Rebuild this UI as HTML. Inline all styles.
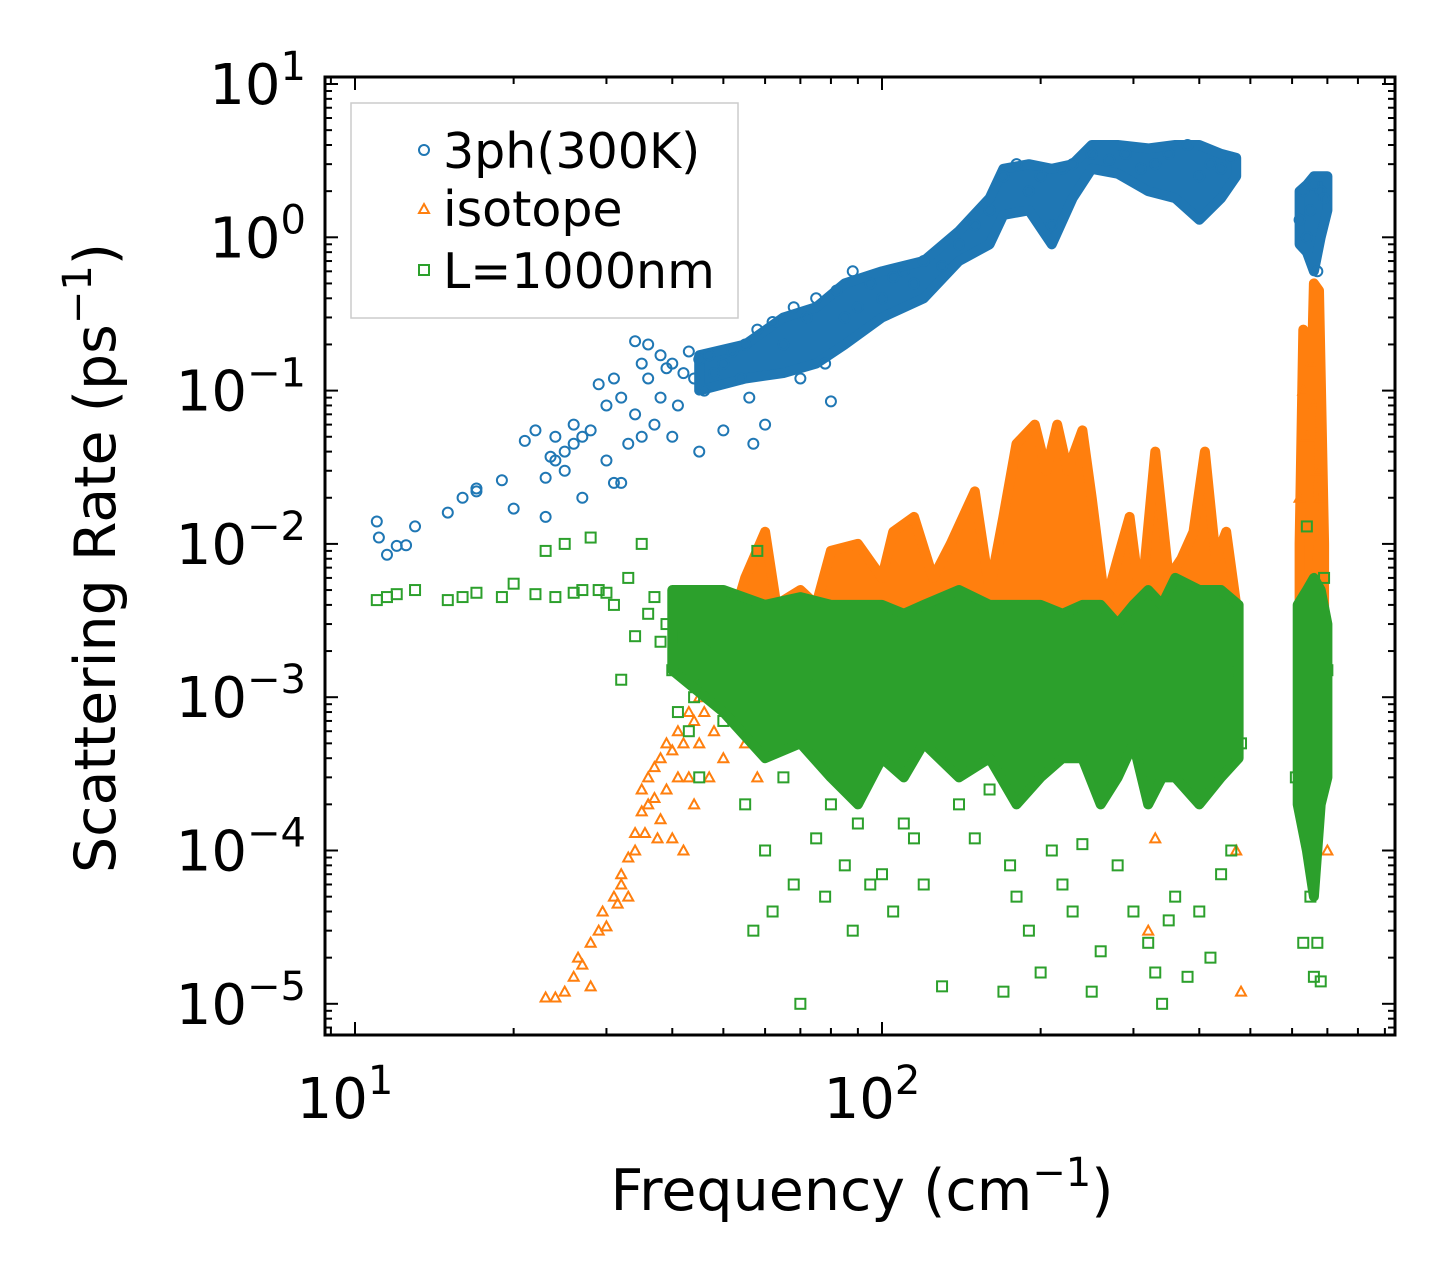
<!DOCTYPE html>
<html>
<head>
<meta charset="utf-8">
<style>
html,body{margin:0;padding:0;background:#fff;}
svg{display:block;font-family:"DejaVu Sans","Liberation Sans",sans-serif;}
</style>
</head>
<body>
<svg id="chart" width="1455" height="1285" viewBox="0 0 1455 1285" xmlns="http://www.w3.org/2000/svg">
<rect x="0" y="0" width="1455" height="1285" fill="#fff"/>
<g id="marks"></g>
<g id="axes"></g>
<g id="legend">
  <rect x="351" y="103" width="387" height="215" fill="#fff" fill-opacity="0.8" stroke="#ccc" stroke-width="1.5"/>
  <g>
    <circle cx="424" cy="150" r="5" fill="none" stroke="#1f77b4" stroke-width="2"/>
    <text x="443" y="168" font-size="49" fill="#000">3ph(300K)</text>
  </g>
  <g>
    <polygon points="424,204 429,213 419,213" fill="none" stroke="#ff7f0e" stroke-width="2"/>
    <text x="443" y="226" font-size="49" fill="#000">isotope</text>
  </g>
  <g>
    <rect x="419" y="265" width="10" height="10" fill="none" stroke="#2ca02c" stroke-width="2"/>
    <text x="443" y="288" font-size="49" fill="#000">L=1000nm</text>
  </g>
</g>
<text x="862" y="1210" font-size="57" text-anchor="middle">Frequency (cm<tspan font-size="40" dy="-24">−1</tspan><tspan dy="24">)</tspan></text>
<text transform="translate(115,558) rotate(-90)" font-size="57" text-anchor="middle">Scattering Rate (ps<tspan font-size="40" dy="-24">−1</tspan><tspan dy="24">)</tspan></text>
</svg>
<script>
// ---- data ----
const blueFreq = [11,11.1,11.5,12,12.5,13,15,16,17,17,19,20,21,22,23,23,23.5,24,24,25,25,26,26,27,27,28,29,30,30,31,31,32,32,33,34,34,35,35,36,36,37,38,38,39,40,40,41,42,43,44,45,45,46,47,48,50,50,52,54,55,56,57,58,60,62,65,68,70,72,75,78,80,82,85,88,90,95,100,105,110,115,120,130,140,150,160,170,180,190,200,210,220,230,250,270,290,310,330,350,380,400,420,440,460,620,630,640,650,660,670,680,690];
const blueRate = [0.014,0.011,0.0085,0.0097,0.0098,0.013,0.016,0.02,0.022,0.023,0.026,0.017,0.047,0.055,0.027,0.015,0.037,0.035,0.05,0.04,0.03,0.045,0.06,0.02,0.05,0.055,0.11,0.035,0.08,0.025,0.12,0.09,0.025,0.045,0.07,0.21,0.15,0.05,0.12,0.2,0.06,0.17,0.09,0.14,0.05,0.15,0.08,0.13,0.18,0.12,0.04,0.16,0.1,0.17,0.13,0.15,0.055,0.18,0.12,0.2,0.09,0.045,0.25,0.06,0.28,0.2,0.35,0.12,0.3,0.4,0.15,0.085,0.45,0.3,0.6,0.35,0.5,0.4,0.55,0.6,0.5,0.7,0.65,0.9,1.2,1.5,2.5,3,2,2.5,1.2,2.8,3,3.5,3.2,3.5,2.8,3,3.5,4,2.5,3,2.8,3.3,1.3,2,1,1.5,2.2,0.6,2,1.8];
const blueBandFreq = [45,55,65,75,85,100,120,140,160,170,190,210,230,250,280,320,360,400,440,470];
const blueBandLo = [0.1,0.12,0.13,0.15,0.2,0.3,0.4,0.7,0.9,1.4,1.5,0.9,1.8,2.8,2.6,2,1.8,1.3,1.8,2.5];
const blueBandHi = [0.17,0.2,0.3,0.35,0.5,0.6,0.7,1.1,1.8,2.8,3,2.8,3,4,4,3.8,4,4,3.5,3.3];
const blueBand2Freq = [620,640,660,680,700];
const blueBand2Lo = [0.9,0.8,0.6,1,1.5];
const blueBand2Hi = [2,2.2,2.5,2.5,2.5];

const orangeFreq = [23,24,25,26,26.5,27,28,28,29,29.5,30,31,31.5,32,32,33,33,34,34,35,35,35.5,36,36,37,37,37.5,38,38,39,39,40,40,41,41,42,42,43,43,44,44,45,45,46,47,48,48,50,50,52,53,55,55,57,58,60,620,630,640,650,660,670,680,700,470,480,320,330];
const orangeRate = [1.1e-5,1.1e-5,1.2e-5,1.5e-5,2e-5,1.8e-5,1.3e-5,2.5e-5,3e-5,4e-5,3.2e-5,5e-5,4.5e-5,6e-5,7e-5,5e-5,9e-5,1e-4,1.3e-4,1.8e-4,2.5e-4,1.3e-4,3e-4,2e-4,2.2e-4,3.5e-4,1.2e-4,4e-4,1.6e-4,2.5e-4,5e-4,4.5e-4,1.2e-4,3e-4,6e-4,5e-4,1e-4,8e-4,3e-4,7e-4,2e-4,1e-3,5e-4,8e-4,3e-4,1.2e-3,6e-4,1e-3,4e-4,1.5e-3,7e-4,1.3e-3,5e-4,2e-3,3e-4,8e-4,0.02,0.1,0.05,0.15,0.08,0.03,0.02,1e-4,1e-4,1.2e-5,3e-5,1.2e-4];
const orangeBandFreq = [50,55,60,63,70,75,80,90,100,105,115,125,135,150,160,170,180,195,205,215,225,240,250,265,280,295,310,330,350,370,390,410,430,450,470];
const orangeBandLo = [0.0008,0.001,0.0015,0.002,0.002,0.002,0.002,0.003,0.003,0.003,0.003,0.003,0.003,0.003,0.003,0.002,0.003,0.003,0.003,0.003,0.003,0.003,0.002,0.002,0.002,0.002,0.002,0.002,0.002,0.002,0.002,0.002,0.002,0.002,0.002];
const orangeBandHi = [0.002,0.006,0.012,0.004,0.005,0.004,0.009,0.01,0.006,0.012,0.015,0.006,0.01,0.022,0.005,0.015,0.045,0.06,0.03,0.06,0.03,0.055,0.02,0.004,0.008,0.015,0.004,0.04,0.006,0.008,0.012,0.04,0.008,0.012,0.004];
const orangeBand2Freq = [620,630,645,660,675,690];
const orangeBand2Lo = [0.001,0.005,0.003,0.005,0.01,0.001];
const orangeBand2Hi = [0.01,0.25,0.02,0.5,0.45,0.01];

const greenFreq = [11,11.5,12,13,15,16,17,19,20,22,23,24,25,26,27,28,29,30,31,32,33,34,35,36,37,38,39,40,41,42,43,44,45,46,48,50,52,55,57,58,60,62,65,68,70,72,75,78,80,85,88,90,95,100,105,110,115,120,130,140,150,160,170,175,180,190,200,210,220,230,240,250,260,280,300,320,330,340,350,360,380,400,420,440,460,470,480,610,620,630,640,650,660,670,680,690,700];
const greenRate = [0.0043,0.0045,0.0047,0.005,0.0043,0.0045,0.0048,0.0045,0.0055,0.0047,0.009,0.0045,0.01,0.0048,0.005,0.011,0.005,0.0048,0.004,0.0013,0.006,0.0025,0.01,0.0035,0.0045,0.0023,0.003,0.0015,0.0008,0.0025,0.0006,0.001,3e-4,0.0012,0.002,0.0007,0.0025,2e-4,3e-5,0.009,1e-4,4e-5,3e-4,6e-5,1e-5,0.0012,1.2e-4,5e-5,2e-4,8e-5,3e-5,1.5e-4,6e-5,7e-5,4e-5,1.5e-4,1.2e-4,6e-5,1.3e-5,2e-4,1.2e-4,2.5e-4,1.2e-5,8e-5,5e-5,3e-5,1.6e-5,1e-4,6e-5,4e-5,1.1e-4,1.2e-5,2.2e-5,8e-5,4e-5,2.5e-5,1.6e-5,1e-5,3.5e-5,5e-5,1.5e-5,4e-5,2e-5,7e-5,1e-4,0.0015,5e-4,0.0003,0.001,2.5e-5,0.013,5e-5,1.5e-5,2.5e-5,1.4e-5,0.006,0.0015];
const greenBandFreq = [40,50,60,70,80,90,100,110,120,140,160,180,200,220,240,260,280,300,320,340,360,400,440,475];
const greenBandLo = [0.0015,0.0008,0.0004,0.0005,0.0003,0.0002,0.0004,0.0003,0.0005,0.0003,0.0004,0.0002,0.0003,0.0004,0.0004,0.0002,0.0003,0.0005,0.0002,0.0003,0.0003,0.0002,0.0003,0.0004];
const greenBandHi = [0.005,0.005,0.004,0.0045,0.004,0.004,0.004,0.0035,0.004,0.005,0.004,0.004,0.004,0.0035,0.004,0.004,0.003,0.004,0.005,0.004,0.006,0.005,0.005,0.004];
const greenBand2Freq = [615,640,660,680,700];
const greenBand2Lo = [0.0002,0.0001,0.00005,0.0002,0.0003];
const greenBand2Hi = [0.004,0.005,0.006,0.005,0.003];

const xTickValues = [10,100];
const xTickExps = ["1","2"];
const yTickExps = [1,0,-1,-2,-3,-4,-5];

// ---- axes ----
const L=325,R=1395,T=77,B=1035;
const X0=355, XD=527, Y0=84, YD=153.3;
function sx(v){return X0+XD*(Math.log10(v)-1);}
function sy(v){return Y0+YD*(1-Math.log10(v));}
const NS="http://www.w3.org/2000/svg";
function mk(tag,attrs,parent){const e=document.createElementNS(NS,tag);for(const k in attrs)e.setAttribute(k,attrs[k]);parent.appendChild(e);return e;}
const marks=document.getElementById('marks');
const axes=document.getElementById('axes');

function band(freq,lo,hi,color,name){
  let pts=[];
  for(let i=0;i<freq.length;i++)pts.push(sx(freq[i]).toFixed(1)+','+sy(hi[i]).toFixed(1));
  for(let i=freq.length-1;i>=0;i--)pts.push(sx(freq[i]).toFixed(1)+','+sy(lo[i]).toFixed(1));
  const p=mk('polygon',{points:pts.join(' '),fill:color,stroke:color,'stroke-width':10,'stroke-linejoin':'round'},marks);
  
  
}
function scatter(freq,rate,color,shape,name){
  const g=mk('g',{},marks);
  
  
  for(let i=0;i<freq.length;i++){
    const x=sx(freq[i]),y=sy(rate[i]);
    if(y<T||y>B)continue;
    if(shape==='c')mk('circle',{cx:x,cy:y,r:5,fill:'none',stroke:color,'stroke-width':2},g);
    else if(shape==='t')mk('polygon',{points:`${x},${y-5} ${x+5},${y+4} ${x-5},${y+4}`,fill:'none',stroke:color,'stroke-width':2},g);
    else mk('rect',{x:x-5,y:y-5,width:10,height:10,fill:'none',stroke:color,'stroke-width':2},g);
  }
}
band(blueBandFreq,blueBandLo,blueBandHi,'#1f77b4','band-3ph');
band(blueBand2Freq,blueBand2Lo,blueBand2Hi,'#1f77b4','band-3ph-high');
scatter(blueFreq,blueRate,'#1f77b4','c','series-3ph');
band(orangeBandFreq,orangeBandLo,orangeBandHi,'#ff7f0e','band-isotope');
band(orangeBand2Freq,orangeBand2Lo,orangeBand2Hi,'#ff7f0e','band-isotope-high');
scatter(orangeFreq,orangeRate,'#ff7f0e','t','series-isotope');
band(greenBandFreq,greenBandLo,greenBandHi,'#2ca02c','band-boundary');
band(greenBand2Freq,greenBand2Lo,greenBand2Hi,'#2ca02c','band-boundary-high');
scatter(greenFreq,greenRate,'#2ca02c','s','series-boundary');

// frame
const fr=mk('rect',{x:L,y:T,width:R-L,height:B-T,fill:'none',stroke:'#000','stroke-width':3},axes);


// x ticks
for(let d=0;d<3;d++){
  for(let m=1;m<10;m++){
    const v=m*Math.pow(10,d); const x=sx(v);
    if(x<L||x>R)continue;
    const len=(m===1)?13:7;
    mk('line',{x1:x,y1:B,x2:x,y2:B-len,stroke:'#000','stroke-width':2},axes);
    mk('line',{x1:x,y1:T,x2:x,y2:T+len,stroke:'#000','stroke-width':2},axes);
  }
}
xTickValues.forEach((v,i)=>{
  const t=mk('text',{x:sx(v)-10,y:1118,'font-size':56,'text-anchor':'middle'},axes);
  t.textContent='10';
  const s=mk('tspan',{'font-size':40,dy:-24},t); s.textContent=xTickExps[i];
  
  
});
// y ticks
for(let e=-6;e<=1;e++){
  for(let m=1;m<10;m++){
    const v=m*Math.pow(10,e); const y=sy(v);
    if(y<T||y>B)continue;
    const len=(m===1)?13:7;
    mk('line',{x1:L,y1:y,x2:L+len,y2:y,stroke:'#000','stroke-width':2},axes);
    mk('line',{x1:R,y1:y,x2:R-len,y2:y,stroke:'#000','stroke-width':2},axes);
  }
}
yTickExps.forEach(e=>{
  const y=sy(Math.pow(10,e));
  const t=mk('text',{x:306,y:y+20,'font-size':56,'text-anchor':'end'},axes);
  const a=mk('tspan',{},t); a.textContent='10';
  const s=mk('tspan',{'font-size':40,dy:-24},t); s.textContent=(e<0?'−':'')+Math.abs(e);
  
  
});
</script>
</body>
</html>
